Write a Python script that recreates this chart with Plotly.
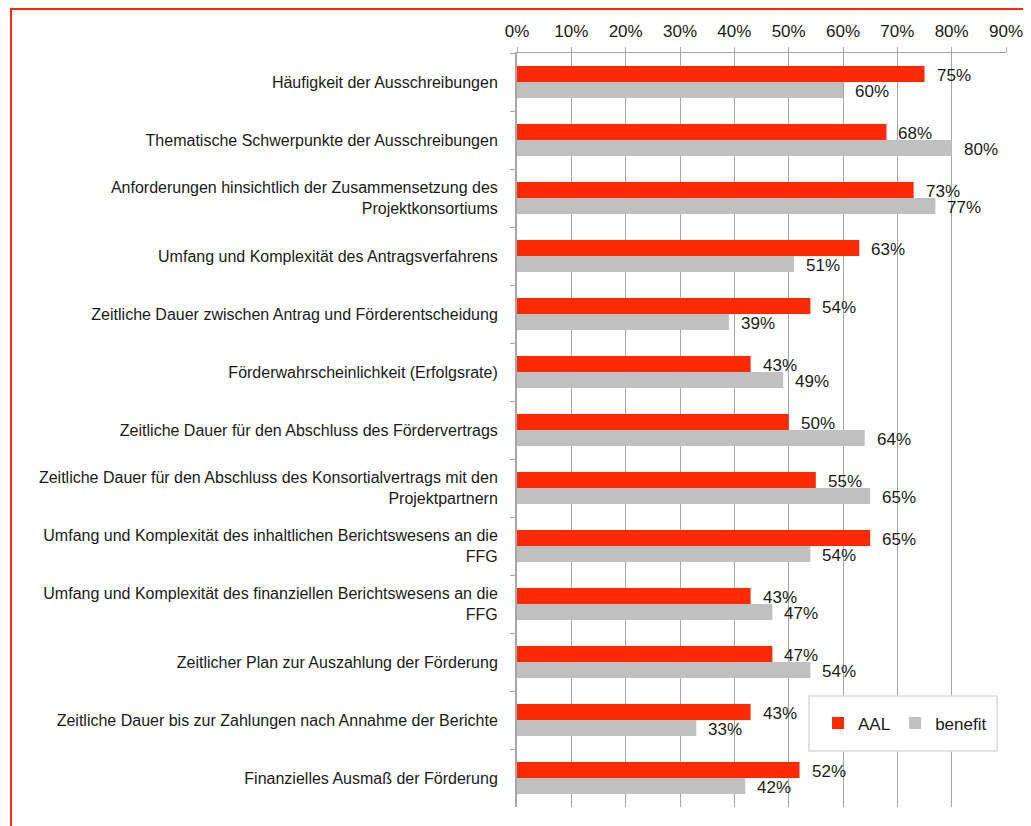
import plotly.graph_objects as go

# Categories, top to bottom as in the source chart
categories = [
    "Häufigkeit der Ausschreibungen",
    "Thematische Schwerpunkte der Ausschreibungen",
    "Anforderungen hinsichtlich der Zusammensetzung des<br>Projektkonsortiums",
    "Umfang und Komplexität des Antragsverfahrens",
    "Zeitliche Dauer zwischen Antrag und Förderentscheidung",
    "Förderwahrscheinlichkeit (Erfolgsrate)",
    "Zeitliche Dauer für den Abschluss des Fördervertrags",
    "Zeitliche Dauer für den Abschluss des Konsortialvertrags mit den<br>Projektpartnern",
    "Umfang und Komplexität des inhaltlichen Berichtswesens an die<br>FFG",
    "Umfang und Komplexität des finanziellen Berichtswesens an die<br>FFG",
    "Zeitlicher Plan zur Auszahlung der Förderung",
    "Zeitliche Dauer bis zur Zahlungen nach Annahme der Berichte",
    "Finanzielles Ausmaß der Förderung",
]
aal = [0.75, 0.68, 0.73, 0.63, 0.54, 0.43, 0.50, 0.55, 0.65, 0.43, 0.47, 0.43, 0.52]
benefit = [0.60, 0.80, 0.77, 0.51, 0.39, 0.49, 0.64, 0.65, 0.54, 0.47, 0.54, 0.33, 0.42]
tick_vals = [i / 10 for i in range(10)]

RED = "#ff2a00"
GREY = "#c0c0c0"
GRID = "#a6a6a6"
FONT = "Liberation Sans, Arial, sans-serif"

# the page body has an 8px margin, so the figure sits at (8, 8) in the window
OFF = 8
W, H = 1031 - OFF, 826 - OFF
# plot area in window pixels: x 517..1006, y 53..807
L, R, T, B = 517 - OFF, W - (1006 - OFF), 53 - OFF, H - (807 - OFF)

fig = go.Figure()
fig.add_trace(go.Bar(y=categories, x=aal, name="AAL", orientation="h",
                     marker=dict(color=RED, line=dict(width=0))))
fig.add_trace(go.Bar(y=categories, x=benefit, name="benefit", orientation="h",
                     marker=dict(color=GREY, line=dict(width=0))))

# value labels next to each bar end
ann = []
for cat, a, b in zip(categories, aal, benefit):
    ann.append(dict(x=a, y=cat, text=f"{round(a * 100)}%", showarrow=False,
                    xanchor="left", xshift=10, yshift=7,
                    font=dict(size=17, color="#1a1a1a", family=FONT)))
    ann.append(dict(x=b, y=cat, text=f"{round(b * 100)}%", showarrow=False,
                    xanchor="left", xshift=10, yshift=-9,
                    font=dict(size=17, color="#1a1a1a", family=FONT)))

pw = W - L - R
ph = H - T - B


def px_x(v):
    # window x pixel -> paper fraction
    return (v - OFF - L) / pw


def px_y(v):
    # window y pixel -> paper fraction
    return (H - B - (v - OFF)) / ph


shapes = [
    # outer red frame
    dict(type="rect", xref="paper", yref="paper",
         x0=px_x(11), x1=px_x(1045), y0=px_y(840), y1=px_y(OFF + 1),
         line=dict(color=RED, width=2), fillcolor="rgba(0,0,0,0)", layer="above"),
    # legend box
    dict(type="rect", xref="paper", yref="paper",
         x0=px_x(809), x1=px_x(997), y0=px_y(751), y1=px_y(696),
         line=dict(color="#d9d9d9", width=1.5), fillcolor="white", layer="above"),
]

fig.update_layout(
    width=W, height=H,
    margin=dict(l=L, r=R, t=T, b=B),
    paper_bgcolor="white", plot_bgcolor="white",
    barmode="group", bargap=0.45, bargroupgap=0,
    font=dict(family=FONT, size=17, color="#1a1a1a"),
    xaxis=dict(
        side="top", range=[0, 0.9], tickvals=tick_vals, tickformat=".0%",
        showgrid=True, gridcolor=GRID, gridwidth=1,
        showline=True, linecolor=GRID, linewidth=1,
        ticks="outside", ticklen=5, tickcolor=GRID,
        zeroline=False, ticklabelstandoff=3, automargin=False,
        tickfont=dict(size=17),
    ),
    yaxis=dict(
        autorange="reversed", showline=True, linecolor=GRID, linewidth=2,
        ticks="outside", ticklen=5, tickcolor=GRID, tickson="boundaries",
        showgrid=False, ticklabelstandoff=14, automargin=False,
        tickfont=dict(size=16),
    ),
    legend=dict(
        orientation="h", x=px_x(818), y=(px_y(751) + px_y(696)) / 2,
        xanchor="left", yanchor="middle", bgcolor="rgba(0,0,0,0)",
        font=dict(size=17), itemwidth=30,
    ),
    annotations=ann,
    shapes=shapes,
)

fig.write_html("out.html")
